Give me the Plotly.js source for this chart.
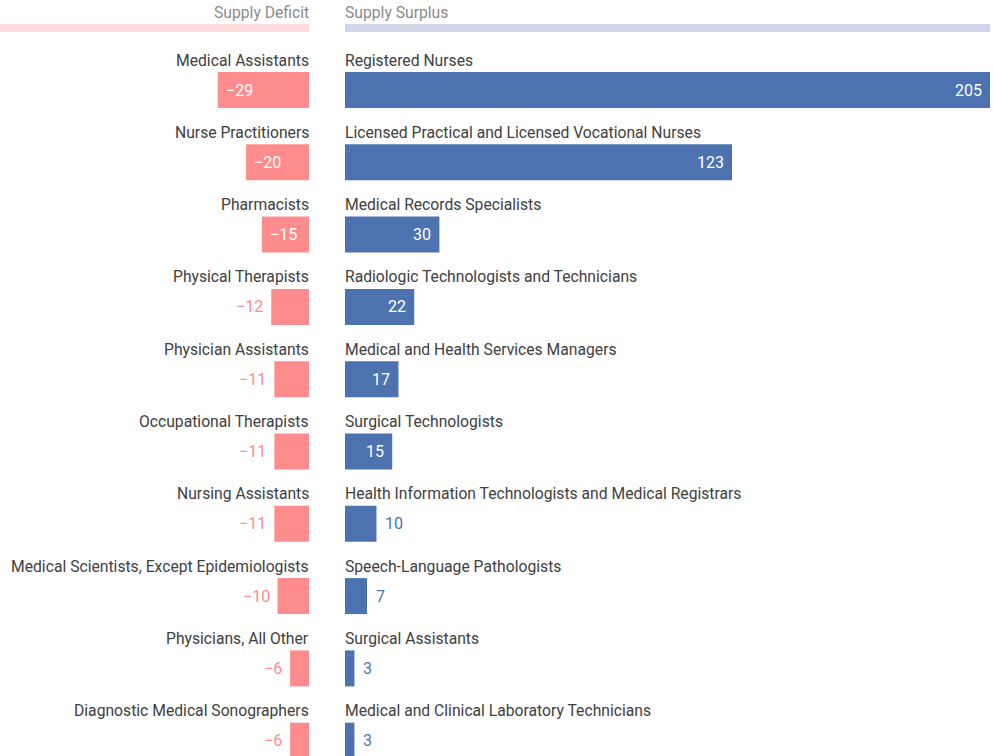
<!DOCTYPE html>
<html>
<head>
<meta charset="utf-8">
<script src="https://cdn.plot.ly/plotly-3.0.1.min.js"></script>
<style>html,body{margin:0;padding:0;background:#fff;}#chart{width:993px;height:756px;}</style>
</head>
<body>
<div id="chart"></div>
<script>
// ---- data ----
const deficitNames = ["Medical Assistants","Nurse Practitioners","Pharmacists","Physical Therapists","Physician Assistants","Occupational Therapists","Nursing Assistants","Medical Scientists, Except Epidemiologists","Physicians, All Other","Diagnostic Medical Sonographers"];
const deficitValues = [-29,-20,-15,-12,-11,-11,-11,-10,-6,-6];
const surplusNames = ["Registered Nurses","Licensed Practical and Licensed Vocational Nurses","Medical Records Specialists","Radiologic Technologists and Technicians","Medical and Health Services Managers","Surgical Technologists","Health Information Technologists and Medical Registrars","Speech-Language Pathologists","Surgical Assistants","Medical and Clinical Laboratory Technicians"];
const surplusValues = [205,123,30,22,17,15,10,7,3,3];
const headerLeft = "Supply Deficit";
const headerRight = "Supply Surplus";

// ---- style ----
const W = 993, H = 756;
const pink = "#FF8C8C", blue = "#4C72B0";
const pinkLight = "#FFDDDD", blueLight = "#D2D7E8";
const labelColor = "#404040", headColor = "#8a8a8a";
const FONT = "Roboto, 'Open Sans', sans-serif";
const LABEL_SIZE = 15.7, VALUE_SIZE = 16;
const pxPerUnit = 645/205;
const leftZeroPx = 309, rightZeroPx = 345, rightEndPx = 990;
const leftMin = -leftZeroPx/pxPerUnit;
const rowPx = 72.3, firstCenterPx = 90;
const yTop = -firstCenterPx/rowPx;
const yBottom = yTop + H/rowPx;
const rows = deficitValues.map((_, i) => i);
const insideLimitLeft = 13, insideLimitRight = 12;

const traces = [
  {type:"bar", orientation:"h", x:deficitValues, y:rows, xaxis:"x", yaxis:"y",
   marker:{color:pink}, width:36/rowPx, hoverinfo:"skip"},
  {type:"bar", orientation:"h", x:surplusValues, y:rows, xaxis:"x2", yaxis:"y",
   marker:{color:blue}, width:36/rowPx, hoverinfo:"skip"}
];

const annotations = [];
const fmt = v => (v < 0 ? "\u2212" + Math.abs(v) : String(v));
rows.forEach(i => {
  annotations.push({xref:"x", yref:"y", x:0, y:i-0.415, text:deficitNames[i], showarrow:false,
    xanchor:"right", yanchor:"middle", xshift:2, yshift:0, font:{family:FONT, size:LABEL_SIZE, color:labelColor}});
  annotations.push({xref:"x2", yref:"y", x:0, y:i-0.415, text:surplusNames[i], showarrow:false,
    xanchor:"left", yanchor:"middle", xshift:-2, yshift:0, font:{family:FONT, size:LABEL_SIZE, color:labelColor}});
  const dv = deficitValues[i], inL = Math.abs(dv) >= insideLimitLeft;
  annotations.push({xref:"x", yref:"y", x:dv, y:i, text:fmt(dv), showarrow:false,
    xanchor: inL ? "left" : "right", xshift: inL ? 6 : -6, yanchor:"middle",
    font:{family:FONT, size:VALUE_SIZE, color: inL ? "#ffffff" : pink}});
  const sv = surplusValues[i], inR = sv >= insideLimitRight;
  annotations.push({xref:"x2", yref:"y", x:sv, y:i, text:fmt(sv), showarrow:false,
    xanchor: inR ? "right" : "left", xshift: inR ? -6 : 7, yanchor:"middle",
    font:{family:FONT, size:VALUE_SIZE, color: inR ? "#ffffff" : blue}});
});
annotations.push({xref:"x", yref:"paper", x:0, y:1-13/H, text:headerLeft, showarrow:false,
  xanchor:"right", yanchor:"middle", xshift:2, yshift:1, font:{family:FONT, size:LABEL_SIZE, color:headColor}});
annotations.push({xref:"x2", yref:"paper", x:0, y:1-13/H, text:headerRight, showarrow:false,
  xanchor:"left", yanchor:"middle", xshift:-2, yshift:1, font:{family:FONT, size:LABEL_SIZE, color:headColor}});

const shapes = [
  {type:"rect", xref:"x", yref:"paper", x0:leftMin, x1:0, y0:1-32/H, y1:1-24/H, fillcolor:pinkLight, line:{width:0}, layer:"below"},
  {type:"rect", xref:"x2", yref:"paper", x0:0, x1:surplusValues[0], y0:1-32/H, y1:1-24/H, fillcolor:blueLight, line:{width:0}, layer:"below"}
];

const axisCommon = {showgrid:false, zeroline:false, showticklabels:false, showline:false, ticks:"", fixedrange:true};
const layout = {
  width:W, height:H, margin:{l:0, r:0, t:0, b:0},
  paper_bgcolor:"#ffffff", plot_bgcolor:"#ffffff", showlegend:false,
  xaxis:Object.assign({domain:[0, leftZeroPx/W], range:[leftMin, 0]}, axisCommon),
  xaxis2:Object.assign({domain:[rightZeroPx/W, rightEndPx/W], range:[0, surplusValues[0]], anchor:"y"}, axisCommon),
  yaxis:Object.assign({range:[yBottom, yTop], domain:[0,1]}, axisCommon),
  annotations, shapes, font:{family:FONT}
};
Plotly.newPlot("chart", traces, layout, {displayModeBar:false, staticPlot:true});
</script>
</body>
</html>
